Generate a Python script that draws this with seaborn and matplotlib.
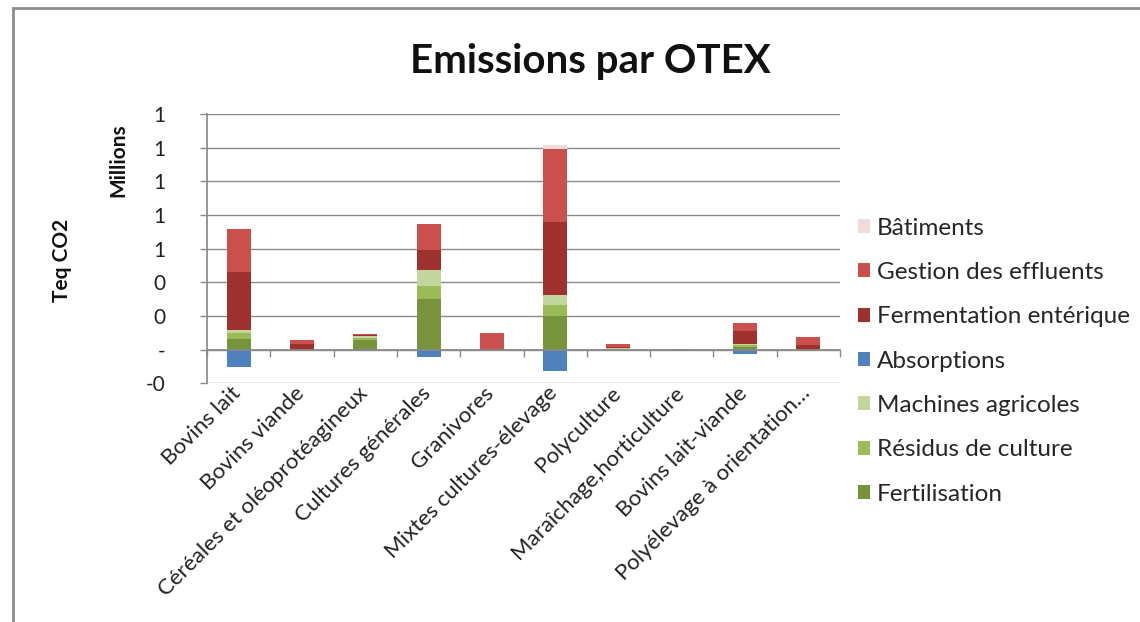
import numpy as np
import pandas as pd
import matplotlib
matplotlib.use("Agg")
import matplotlib.pyplot as plt
from matplotlib.patches import Patch, Rectangle
from matplotlib.transforms import ScaledTranslation
import seaborn as sns

# Emissions per farm type (OTEX), in millions of t CO2 equivalent
categories = [
    "Bovins lait",
    "Bovins viande",
    "Céréales et oléoprotéagineux",
    "Cultures générales",
    "Granivores",
    "Mixtes cultures-élevage",
    "Polyculture",
    "Maraîchage,horticulture",
    "Bovins lait-viande",
    "Polyélevage à orientation…",
]
fertilisation = [0.063, 0.000, 0.058, 0.301, 0.000, 0.202, 0.003, 0.003, 0.015, 0.000]
residus       = [0.036, 0.000, 0.012, 0.075, 0.000, 0.065, 0.002, 0.001, 0.010, 0.000]
machines      = [0.020, 0.000, 0.010, 0.095, 0.000, 0.059, 0.002, 0.001, 0.008, 0.000]
fermentation  = [0.344, 0.035, 0.004, 0.123, 0.003, 0.435, 0.006, 0.000, 0.075, 0.030]
gestion       = [0.253, 0.025, 0.008, 0.154, 0.093, 0.429, 0.020, 0.000, 0.053, 0.045]
batiments     = [0.000, 0.000, 0.000, 0.000, 0.000, 0.026, 0.000, 0.000, 0.000, 0.000]
absorptions   = [-0.103, 0.000, -0.008, -0.046, 0.000, -0.129, 0.000, 0.000, -0.025, 0.000]

y_ticks = [-0.2, 0.0, 0.2, 0.4, 0.6, 0.8, 1.0, 1.2, 1.4]
y_tick_labels = ["-0", "-", "0", "0", "1", "1", "1", "1", "1"]

# series name, values, colour (positive layers listed bottom to top)
positive_layers = [
    ("Fertilisation", fertilisation, "#77933C"),
    ("Résidus de culture", residus, "#9BBB59"),
    ("Machines agricoles", machines, "#C3D69B"),
    ("Fermentation entérique", fermentation, "#9E302E"),
    ("Gestion des effluents", gestion, "#C9504D"),
    ("Bâtiments", batiments, "#F2DCDB"),
]
absorption_color = "#4F81BD"

sns.set_theme(style="white")
plt.rcParams["font.family"] = ["Lato", "DejaVu Sans"]

df = pd.DataFrame({"OTEX": categories})
running = np.zeros(len(categories))
cum_cols = []
for name, vals, color in positive_layers:
    running = running + np.array(vals)
    col = "cum_" + name
    df[col] = running
    cum_cols.append((col, color))
df["Absorptions"] = absorptions

fig = plt.figure(figsize=(11.4, 6.22), dpi=100)
ax = fig.add_axes([207 / 1140, 1 - 383.3 / 622, (840 - 207) / 1140, (383.3 - 114) / 622])

grid_color = "#8A8A8A"
ax.set_axisbelow(True)
ax.yaxis.grid(True, color=grid_color, linewidth=1.0)

# stacked bars: draw cumulative totals from the top layer downwards
for col, color in reversed(cum_cols):
    sns.barplot(data=df, x="OTEX", y=col, order=categories, color=color,
                saturation=1, width=0.38, errorbar=None, ax=ax, linewidth=0)
sns.barplot(data=df, x="OTEX", y="Absorptions", order=categories, color=absorption_color,
            saturation=1, width=0.38, errorbar=None, ax=ax, linewidth=0)

ax.set_xlim(-0.5, len(categories) - 0.5)
ax.set_ylim(-0.2, 1.4)
ax.set_yticks(y_ticks)
ax.set_yticklabels(y_tick_labels, fontsize=15, color="#222222")
ax.tick_params(axis="y", which="major", direction="out", length=5, width=1,
               color=grid_color, pad=25, left=True)
ax.set_xlabel("")
ax.set_ylabel("")

# category axis crosses at zero, labels sit below the plot area
for side in ["top", "right"]:
    ax.spines[side].set_visible(False)
ax.spines["left"].set_color(grid_color)
ax.spines["bottom"].set_color(grid_color)
ax.spines["bottom"].set_position(("data", 0))
ax.set_xticks(np.arange(len(categories)))
ax.set_xticks(np.arange(-0.5, len(categories), 1.0), minor=True)
ax.set_xticklabels(categories, rotation=45, ha="right", rotation_mode="anchor",
                   fontsize=16, color="#222222")
ax.tick_params(axis="x", which="major", length=0, pad=24, bottom=True)
ax.tick_params(axis="x", which="minor", direction="out", length=5, width=1,
               color=grid_color, bottom=True)
shift = ScaledTranslation(-8 / 100, 0, fig.dpi_scale_trans)
for lbl in ax.get_xticklabels():
    lbl.set_transform(lbl.get_transform() + shift)

fig.text(590 / 1140, 1 - 62 / 622, "Emissions par OTEX", ha="center", va="center",
         fontsize=29, fontweight="bold", color="#111111")
fig.text(118 / 1140, 1 - 160 / 622, "Millions", rotation=90, ha="center", va="center",
         fontsize=15, fontweight="bold", color="#111111")
fig.text(62 / 1140, 1 - 260 / 622, "Teq CO2", rotation=90, ha="center", va="center",
         fontsize=15, fontweight="bold", color="#111111")

legend_order = ["Bâtiments", "Gestion des effluents", "Fermentation entérique", "Absorptions",
                "Machines agricoles", "Résidus de culture", "Fertilisation"]
color_map = {name: color for name, _, color in positive_layers}
color_map["Absorptions"] = absorption_color
handles = [Patch(facecolor=color_map[n], edgecolor="none", label=n) for n in legend_order]
fig.legend(handles=handles, loc="upper left", bbox_to_anchor=(848 / 1140, 1 - 208 / 622),
           frameon=False, fontsize=17.5, handlelength=0.5, handleheight=0.5,
           handletextpad=0.3, labelspacing=0.96, borderaxespad=0)

# chart frame
fig.add_artist(Rectangle((13 / 1140, -0.1), 1.2, 1.1 - 8 / 622, transform=fig.transFigure,
                         fill=False, edgecolor="#8C8C8C", linewidth=2))

fig.savefig("out.png", dpi=100)
